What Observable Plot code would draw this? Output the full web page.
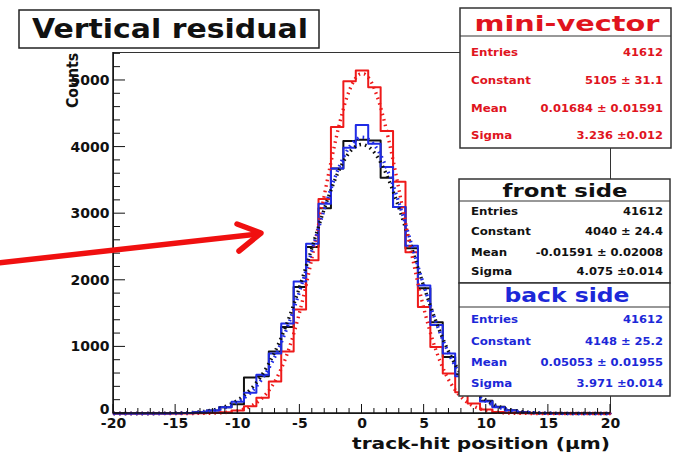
<!DOCTYPE html>
<html><head><meta charset="utf-8">
<script src="https://cdn.jsdelivr.net/npm/d3@7"></script>
<script src="https://cdn.jsdelivr.net/npm/@observablehq/plot@0.6"></script>
<style>html,body{margin:0;padding:0;background:#fff;} #chart{width:673px;height:455px;overflow:hidden}</style>
</head><body><div id="chart"></div>
<script>
// ---- data ----
const bins = [-20,-19,-18,-17,-16,-15,-14,-13,-12,-11,-10,-9,-8,-7,-6,-5,-4,-3,-2,-1,0,1,2,3,4,5,6,7,8,9,10,11,12,13,14,15,16,17,18,19,20];
const frontCounts = [0,0,0,0,0,3,8,20,45,95,140,540,560,930,1300,1900,2500,3080,3680,4090,4110,4100,3540,3100,2480,1880,1370,850,590,340,190,100,50,22,9,3,0,0,0,0,0];
const miniCounts  = [0,0,0,0,0,0,0,2,6,17,45,110,235,480,930,1560,2300,3220,4300,4990,5150,4900,4240,3480,2420,1600,1000,600,320,150,60,22,8,3,0,0,0,0,0,0,0];
const backCounts  = [0,0,0,0,0,3,8,20,45,95,175,310,580,900,1350,1980,2550,3150,3680,3990,4330,4050,3700,3100,2520,1920,1330,900,560,330,180,95,45,20,8,3,0,0,0,0,0];
const xTicks = [-20,-15,-10,-5,0,5,10,15,20];
const yTicks = [0,1000,2000,3000,4000,5000];
const seriesNames = ["mini-vector","front side","back side"];
const statLabels = ["Entries","Constant","Mean","Sigma"];
const miniStats  = ["41612","5105 \u00b1 31.1","0.01684 \u00b1 0.01591","3.236 \u00b10.012"];
const frontStats = ["41612","4040 \u00b1 24.4","-0.01591 \u00b1 0.02008","4.075 \u00b10.014"];
const backStats  = ["41612","4148 \u00b1 25.2","0.05053 \u00b1 0.01955","3.971 \u00b10.014"];
const fitConstant = [5105, 4040, 4148];
const fitMean     = [0.01684, -0.01591, 0.05053];
const fitSigma    = [3.236, 4.075, 3.971];
const colors = ["#ee1a1a", "#111111", "#1f2be6"];
const textColors = ["#e0141e", "#111111", "#1c28d8"];

// ---- tables ----
const countsBySeries = [miniCounts, frontCounts, backCounts];
const hist = countsBySeries.map((c, s) => bins.map((b, i) => ({x: b, y: c[i], s})));
const fitX = d3.range(-20, 20.001, 0.2);
const fits = seriesNames.map((n, s) => fitX.map(x => ({x, y: fitConstant[s] * Math.exp(-0.5 * ((x - fitMean[s]) / fitSigma[s]) ** 2), s})));

const tickFont = {fontFamily: "DejaVu Sans", fontWeight: "bold", fontSize: 14};
const dotted = {strokeWidth: 3.4, strokeDasharray: "1.6 4", strokeLinecap: "butt"};

const plot = Plot.plot({
  width: 673, height: 455,
  marginLeft: 113, marginRight: 63, marginTop: 52, marginBottom: 42,
  x: {domain: [-20, 20]},
  y: {domain: [0, 5420]},
  style: {fontFamily: "DejaVu Sans", fontWeight: "bold", fontSize: "14px", color: "#111", background: "white"},
  marks: [
    Plot.frame({stroke: "#333", strokeWidth: 1}),
    Plot.axisX({ticks: xTicks, tickSize: 0, tickPadding: 5, label: null, tickFormat: d => String(d), ...tickFont}),
    Plot.axisY({ticks: yTicks, tickSize: 0, tickPadding: 4, label: null, tickFormat: d => String(d), ...tickFont}),
    Plot.line(hist[1], {x: "x", y: "y", curve: "step", stroke: colors[1], strokeWidth: 2}),
    Plot.line(hist[0], {x: "x", y: "y", curve: "step", stroke: colors[0], strokeWidth: 2}),
    Plot.line(hist[2], {x: "x", y: "y", curve: "step", stroke: colors[2], strokeWidth: 2}),
    Plot.line(fits[1], {x: "x", y: "y", stroke: colors[1], ...dotted}),
    Plot.line(fits[0], {x: "x", y: "y", stroke: colors[0], ...dotted}),
    Plot.line(fits[2], {x: "x", y: "y", stroke: colors[2], ...dotted})
  ]
});
document.getElementById("chart").appendChild(plot);

const sx = plot.scale("x"), sy = plot.scale("y");
const svg = d3.select(plot);
// ROOT puts the y "0" label slightly above the axis corner
svg.selectAll('g[aria-label="y-axis tick label"] text').filter(function() { return this.textContent === "0"; })
  .attr("dy", "-0.3em");
const g = svg.append("g");
const x0 = sx.apply(-20), x1 = sx.apply(20), y0 = sy.apply(0), yTop = sy.apply(5420);

// ticks (inside, ROOT style)
const xMinor = d3.range(-20, 21, 1);
g.selectAll(".xt").data(xMinor).join("line")
  .attr("x1", d => sx.apply(d)).attr("x2", d => sx.apply(d))
  .attr("y1", y0).attr("y2", d => y0 - (d % 5 === 0 ? 9 : 5))
  .attr("stroke", "#111").attr("stroke-width", 1);
const yMinor = d3.range(0, 5401, 200);
g.selectAll(".yt").data(yMinor).join("line")
  .attr("y1", d => sy.apply(d)).attr("y2", d => sy.apply(d))
  .attr("x1", x0).attr("x2", d => x0 + (d % 1000 === 0 ? 12 : 7))
  .attr("stroke", "#111").attr("stroke-width", 1);
g.append("line").attr("x1", x0).attr("x2", x0).attr("y1", yTop).attr("y2", y0).attr("stroke", "#111").attr("stroke-width", 1.5);
g.append("line").attr("x1", x0).attr("x2", x1).attr("y1", y0).attr("y2", y0).attr("stroke", "#111").attr("stroke-width", 1.5);

function txt(parent, x, y, s, o) {
  const t = parent.append("text").attr("x", x).attr("y", y).text(s)
    .attr("font-family", "DejaVu Sans").attr("font-weight", "bold")
    .attr("font-size", o.size).attr("fill", o.fill || "#111")
    .attr("text-anchor", o.anchor || "start");
  if (o.transform) t.attr("transform", o.transform);
  const node = t.node();
  const len = o.len || (o.stretch ? node.getComputedTextLength() * o.stretch : null);
  if (len) t.attr("textLength", len).attr("lengthAdjust", "spacingAndGlyphs");
  return t;
}

// axis titles
txt(g, 610, 449, "track-hit position (\u00b5m)", {size: 16.5, anchor: "end", len: 258});
txt(g, 0, 0, "Counts", {size: 15, anchor: "end", len: 55, transform: "translate(78,53) rotate(-90)"});

// title box
g.append("rect").attr("x", 19).attr("y", 10).attr("width", 300).attr("height", 38)
  .attr("fill", "white").attr("stroke", "#222").attr("stroke-width", 1.5);
txt(g, 32, 38, "Vertical residual", {size: 26, len: 276});

// stat boxes
const boxes = [
  {x: 460, y: 8, w: 211, h: 140, sep: 36, tx: 567, ty: 31, ts: 22, tl: 185, rows: [56, 84, 112, 139], stats: miniStats},
  {x: 459, y: 179, w: 211, h: 104, sep: 201, tx: 565, ty: 197, ts: 17, tl: 125, rows: [215, 235, 256, 275], stats: frontStats},
  {x: 459, y: 283, w: 211, h: 113, sep: 307, tx: 567, ty: 302, ts: 19, tl: 125, rows: [323, 345, 366, 387], stats: backStats}
];
boxes.forEach((b, i) => {
  const bg = g.append("g");
  bg.append("rect").attr("x", b.x).attr("y", b.y).attr("width", b.w).attr("height", b.h)
    .attr("fill", "white").attr("stroke", "#333").attr("stroke-width", 1.5);
  bg.append("line").attr("x1", b.x).attr("x2", b.x + b.w).attr("y1", b.sep).attr("y2", b.sep)
    .attr("stroke", "#333").attr("stroke-width", 1.2);
  txt(bg, b.tx, b.ty, seriesNames[i], {size: b.ts, anchor: "middle", len: b.tl, fill: textColors[i]});
  statLabels.forEach((lab, r) => {
    txt(bg, 471, b.rows[r], lab, {size: 10, fill: textColors[i], stretch: 1.18});
    txt(bg, 663, b.rows[r], b.stats[r], {size: 10, fill: textColors[i], anchor: "end", stretch: 1.15});
  });
});

// red annotation arrow
g.append("line").attr("x1", -2).attr("y1", 263).attr("x2", 258).attr("y2", 234)
  .attr("stroke", "#f01010").attr("stroke-width", 5.5).attr("stroke-linecap", "round");
g.append("polyline").attr("points", "237,224 261,233 239,251")
  .attr("fill", "none").attr("stroke", "#f01010").attr("stroke-width", 5.5)
  .attr("stroke-linecap", "round").attr("stroke-linejoin", "round");
</script>
</body></html>
